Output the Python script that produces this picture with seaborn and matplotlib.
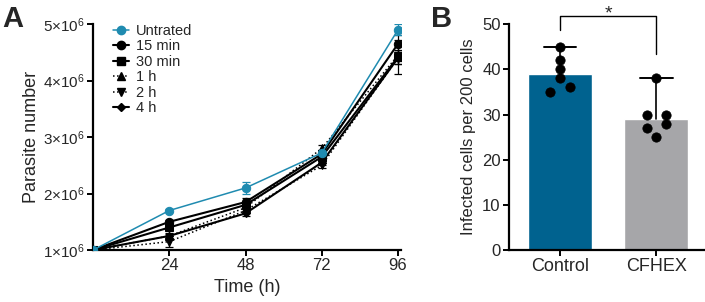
import numpy as np
import pandas as pd
import matplotlib
matplotlib.use("Agg")
import matplotlib.pyplot as plt
import seaborn as sns
from matplotlib.lines import Line2D

sns.set_theme(style="ticks")
plt.rcParams['font.family'] = ['Liberation Sans', 'DejaVu Sans']
plt.rcParams['mathtext.fontset'] = 'custom'
plt.rcParams['mathtext.rm'] = 'Liberation Sans'
plt.rcParams['mathtext.it'] = 'Liberation Sans'

# ---------------- Panel A data ----------------
times = [0, 24, 48, 72, 96]
series_names = ["Untrated", "15 min", "30 min", "1 h", "2 h", "4 h"]
untreated = [1.0e6, 1.70e6, 2.10e6, 2.72e6, 4.90e6]
min15 = [1.0e6, 1.50e6, 1.85e6, 2.70e6, 4.65e6]
min30 = [1.0e6, 1.40e6, 1.80e6, 2.65e6, 4.42e6]
h1 = [1.0e6, 1.25e6, 1.75e6, 2.80e6, 4.45e6]
h2 = [1.0e6, 1.15e6, 1.70e6, 2.50e6, 4.40e6]
h4 = [1.0e6, 1.25e6, 1.65e6, 2.55e6, 4.40e6]
untreated_err = [0, 0.02e6, 0.10e6, 0.05e6, 0.10e6]
min15_err = [0, 0.03e6, 0.08e6, 0.05e6, 0.15e6]
min30_err = [0, 0.03e6, 0.05e6, 0.05e6, 0.30e6]
h1_err = [0, 0.03e6, 0.05e6, 0.06e6, 0.10e6]
h2_err = [0, 0.10e6, 0.05e6, 0.05e6, 0.10e6]
h4_err = [0, 0.05e6, 0.04e6, 0.05e6, 0.10e6]
y_ticks_A = [1e6, 2e6, 3e6, 4e6, 5e6]
y_ticklabels_A = [r'$\mathregular{1{\times}10^6}$', r'$\mathregular{2{\times}10^6}$',
                  r'$\mathregular{3{\times}10^6}$', r'$\mathregular{4{\times}10^6}$',
                  r'$\mathregular{5{\times}10^6}$']
x_ticks_A = [24, 48, 72, 96]

# ---------------- Panel B data ----------------
groups = ["Control", "CFHEX"]
bar_means = [39, 29]
bar_upper = [45, 38]
control_pts = [45, 42, 40, 38, 35, 36]
control_off = [0, 0, 0, 0, -0.1, 0.1]
cfhex_pts = [38, 30, 30, 28, 27, 25]
cfhex_off = [0, -0.1, 0.1, 0.1, -0.1, 0]
bar_colors = ["#00628f", "#a6a6a9"]

teal = "#1f8bb0"
styles = [
    dict(color=teal, marker="o", ls="-", lw=1.1),
    dict(color="black", marker="o", ls="-", lw=1.5),
    dict(color="black", marker="s", ls="-", lw=1.5),
    dict(color="black", marker="^", ls=":", lw=1.1),
    dict(color="black", marker="v", ls=":", lw=1.1),
    dict(color="black", marker="D", ls="-", lw=1.5),
]
all_vals = [untreated, min15, min30, h1, h2, h4]
all_errs = [untreated_err, min15_err, min30_err, h1_err, h2_err, h4_err]

fig = plt.figure(figsize=(7.05, 3.02), dpi=100)
axA = fig.add_axes([0.132, 0.172, 0.437, 0.748])
axB = fig.add_axes([0.722, 0.172, 0.277, 0.748])

# draw later series first so Untreated is on top
handles = []
for name, vals, errs, st in reversed(list(zip(series_names, all_vals, all_errs, styles))):
    df = pd.DataFrame({"t": times, "v": vals})
    axA.errorbar(times, vals, yerr=errs, fmt="none", ecolor=st["color"],
                 elinewidth=0.9, capsize=3, capthick=0.9, zorder=2)
    sns.lineplot(data=df, x="t", y="v", ax=axA, color=st["color"],
                 linestyle=st["ls"], linewidth=st["lw"], marker=st["marker"],
                 markersize=6 if st["marker"] != "D" else 4.5,
                 markeredgecolor=st["color"], zorder=3, legend=False)
for name, st in zip(series_names, styles):
    handles.append(Line2D([], [], color=st["color"], linestyle=st["ls"],
                          linewidth=st["lw"], marker=st["marker"],
                          markersize=6 if st["marker"] != "D" else 4.5, label=name))

axA.set_xlim(0, 97)
axA.set_ylim(1e6, 5e6)
axA.set_xticks(x_ticks_A)
axA.set_xticklabels([str(t) for t in x_ticks_A], fontsize=12)
axA.set_yticks(y_ticks_A)
axA.set_yticklabels(y_ticklabels_A, fontsize=11)
axA.set_xlabel("Time (h)", fontsize=13)
axA.set_ylabel("Parasite number", fontsize=13, labelpad=2)
leg = axA.legend(handles=handles, loc="upper left", bbox_to_anchor=(0.035, 1.04),
                 frameon=False, fontsize=10.5, handlelength=1.1, handletextpad=0.5,
                 labelspacing=0.1, borderaxespad=0.2)

# ---------------- Panel B ----------------
dfB = pd.DataFrame({"group": groups, "mean": bar_means})
sns.barplot(data=dfB, x="group", y="mean", hue="group", palette=bar_colors,
            ax=axB, width=0.67, legend=False, saturation=1, zorder=1)
for i, (m, u) in enumerate(zip(bar_means, bar_upper)):
    axB.plot([i, i], [m, u], color="black", lw=1.2, zorder=3)
    axB.plot([i - 0.17, i + 0.17], [u, u], color="black", lw=1.4, zorder=3)
ptsdf = pd.DataFrame({
    "x": [0 + o for o in control_off] + [1 + o for o in cfhex_off],
    "y": control_pts + cfhex_pts,
})
sns.scatterplot(data=ptsdf, x="x", y="y", ax=axB, color="black", s=45,
                edgecolor="black", zorder=4, legend=False)
axB.set_xlim(-0.53, 1.5)
axB.set_ylim(0, 50)
axB.set_yticks([0, 10, 20, 30, 40, 50])
axB.set_yticklabels(["0", "10", "20", "30", "40", "50"], fontsize=12)
axB.set_xticks([0, 1])
axB.set_xticklabels(groups, fontsize=13)
axB.set_xlabel("")
axB.set_ylabel("Infected cells per 200 cells", fontsize=12, labelpad=4)
# significance bracket
axB.plot([0, 0, 1, 1], [48.7, 51.8, 51.8, 43.5], color="black", lw=1.0, clip_on=False)
axB.text(0.5, 51.2, "*", ha="center", va="baseline", fontsize=14, clip_on=False)

for ax in (axA, axB):
    sns.despine(ax=ax)
    for sp in ("left", "bottom"):
        ax.spines[sp].set_linewidth(1.6)
        ax.spines[sp].set_color("black")
    ax.tick_params(axis="both", width=1.4, length=4, color="black", pad=2)

fig.text(0.003, 0.985, "A", fontsize=21, fontweight="bold", va="top", ha="left")
fig.text(0.612, 0.985, "B", fontsize=21, fontweight="bold", va="top", ha="left")

fig.savefig("out.png", dpi=100)
